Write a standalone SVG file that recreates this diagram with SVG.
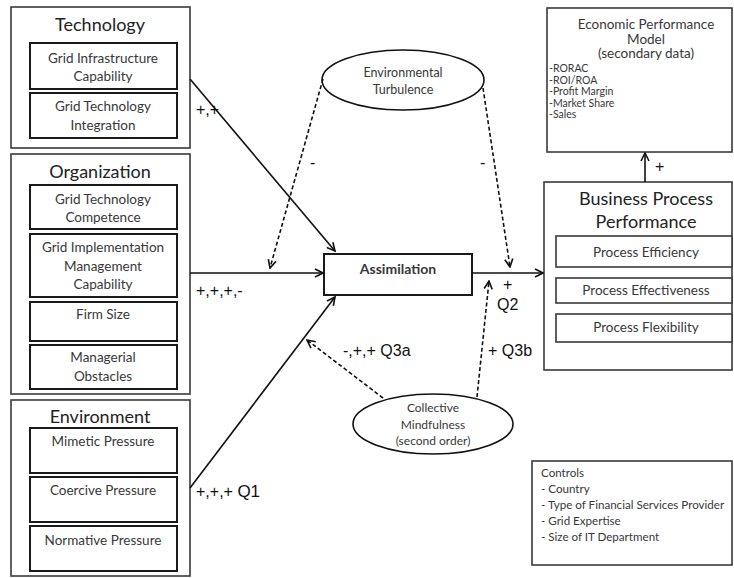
<svg xmlns="http://www.w3.org/2000/svg" width="734" height="578" viewBox="0 0 734 578">
<defs>
<style>
.outer{fill:#fff;stroke:#3a3a3a;stroke-width:1.6}
.inner{fill:#fff;stroke:#1a1a1a;stroke-width:2}
.t{font-family:Lato,"Open Sans","Liberation Sans",sans-serif;fill:#383838;text-anchor:middle}
.title{font-size:18px;fill:#222}
.sub{font-size:13.5px}
.small{font-size:10.5px;text-anchor:start}
.ctl{font-size:11.6px;text-anchor:start}
.lbl{font-family:"Liberation Sans",Arial,sans-serif;font-size:16px;fill:#111}
.line{fill:none;stroke:#111;stroke-width:1.6}
.dash{fill:none;stroke:#111;stroke-width:1.6;stroke-dasharray:4,2.5}
.ell{fill:#fff;stroke:#111;stroke-width:1.6}
</style>
<marker id="ah" viewBox="0 0 10 10" refX="9" refY="5" markerWidth="10" markerHeight="10" markerUnits="userSpaceOnUse" orient="auto">
<path d="M1,1 L9,5 L1,9" fill="none" stroke="#111" stroke-width="1.6"/>
</marker>
</defs>
<rect width="734" height="578" fill="#fff"/>

<g id="technology">
<rect class="outer" x="11" y="7" width="179" height="141"/>
<text class="t title" x="100" y="31">Technology</text>
<rect class="inner" x="30" y="43" width="147" height="46"/>
<text class="t sub" x="103" y="63">Grid Infrastructure</text>
<text class="t sub" x="103" y="81">Capability</text>
<rect class="inner" x="30" y="93" width="147" height="45"/>
<text class="t sub" x="103" y="111">Grid Technology</text>
<text class="t sub" x="103" y="130">Integration</text>
</g>

<g id="organization">
<rect class="outer" x="11" y="154" width="179" height="240"/>
<text class="t title" x="100" y="178">Organization</text>
<rect class="inner" x="30" y="185" width="147" height="44"/>
<text class="t sub" x="103" y="204">Grid Technology</text>
<text class="t sub" x="103" y="222">Competence</text>
<rect class="inner" x="30" y="234" width="147" height="63"/>
<text class="t sub" x="103" y="252">Grid Implementation</text>
<text class="t sub" x="103" y="271">Management</text>
<text class="t sub" x="103" y="289">Capability</text>
<rect class="inner" x="30" y="302" width="147" height="39"/>
<text class="t sub" x="103" y="319">Firm Size</text>
<rect class="inner" x="30" y="345" width="147" height="44"/>
<text class="t sub" x="103" y="362">Managerial</text>
<text class="t sub" x="103" y="381">Obstacles</text>
</g>

<g id="environment">
<rect class="outer" x="11" y="400" width="179" height="176"/>
<text class="t title" x="100" y="423">Environment</text>
<rect class="inner" x="30" y="428" width="147" height="45"/>
<text class="t sub" x="103" y="446">Mimetic Pressure</text>
<rect class="inner" x="30" y="477" width="147" height="45"/>
<text class="t sub" x="103" y="495">Coercive Pressure</text>
<rect class="inner" x="30" y="526" width="147" height="45"/>
<text class="t sub" x="103" y="545">Normative Pressure</text>
</g>

<g id="assimilation">
<rect class="inner" x="324" y="254" width="148" height="41"/>
<text class="t" x="398" y="274" font-size="14" font-weight="bold" fill="#505050">Assimilation</text>
</g>

<g id="env-turbulence">
<ellipse class="ell" cx="403" cy="80" rx="81" ry="30"/>
<text class="t" x="403" y="77" font-size="12.5">Environmental</text>
<text class="t" x="403" y="94" font-size="12.5">Turbulence</text>
</g>

<g id="collective-mindfulness">
<ellipse class="ell" cx="433" cy="424" rx="80" ry="30"/>
<text class="t" x="433" y="412" font-size="12">Collective</text>
<text class="t" x="433" y="429" font-size="12">Mindfulness</text>
<text class="t" x="433" y="445" font-size="12">(second order)</text>
</g>

<g id="economic-performance">
<rect class="outer" x="547" y="8" width="185" height="144"/>
<text class="t" x="646" y="29" font-size="13.5">Economic Performance</text>
<text class="t" x="646" y="43.5" font-size="13.5">Model</text>
<text class="t" x="646" y="58" font-size="13.5">(secondary data)</text>
<text class="t small" x="549" y="72">-RORAC</text>
<text class="t small" x="549" y="83.5">-ROI/ROA</text>
<text class="t small" x="549" y="95">-Profit Margin</text>
<text class="t small" x="549" y="106.5">-Market Share</text>
<text class="t small" x="549" y="118">-Sales</text>
</g>

<g id="business-process">
<rect class="outer" x="544" y="182" width="188" height="188"/>
<text class="t title" x="646" y="205">Business Process</text>
<text class="t title" x="646" y="228">Performance</text>
<rect class="outer" x="556" y="236" width="176" height="31"/>
<text class="t sub" x="646" y="257">Process Efficiency</text>
<rect class="outer" x="556" y="278" width="176" height="25"/>
<text class="t sub" x="646" y="295">Process Effectiveness</text>
<rect class="outer" x="556" y="314" width="176" height="28"/>
<text class="t sub" x="646" y="332">Process Flexibility</text>
</g>

<g id="controls">
<rect class="outer" x="532" y="461" width="200" height="104"/>
<text class="t ctl" x="541" y="477">Controls</text>
<text class="t ctl" x="541" y="493">- Country</text>
<text class="t ctl" x="541" y="509">- Type of Financial Services Provider</text>
<text class="t ctl" x="541" y="525">- Grid Expertise</text>
<text class="t ctl" x="541" y="541">- Size of IT Department</text>
</g>

<g id="connectors">
<line class="line" x1="190" y1="79" x2="335" y2="251" marker-end="url(#ah)"/>
<line class="line" x1="190" y1="273" x2="323" y2="273" marker-end="url(#ah)"/>
<line class="line" x1="190" y1="488" x2="335" y2="297" marker-end="url(#ah)"/>
<line class="line" x1="472" y1="273" x2="543" y2="273" marker-end="url(#ah)"/>
<line class="line" x1="645" y1="182" x2="645" y2="153" marker-end="url(#ah)"/>
<line class="dash" x1="323" y1="79" x2="270" y2="268" marker-end="url(#ah)"/>
<line class="dash" x1="483" y1="88" x2="510" y2="267" marker-end="url(#ah)"/>
<line class="dash" x1="383" y1="398" x2="307" y2="340" marker-end="url(#ah)"/>
<line class="dash" x1="477" y1="397" x2="489" y2="281" marker-end="url(#ah)"/>
<text class="lbl" x="196" y="115">+,+</text>
<text class="lbl" x="196" y="296">+,+,+,-</text>
<text class="lbl" x="196" y="497">+,+,+  <tspan font-size="17">Q1</tspan></text>
<text class="lbl" x="310" y="168" font-size="13">-</text>
<text class="lbl" x="480" y="168" font-size="13">-</text>
<text class="lbl" x="503" y="290" font-size="15">+</text>
<text class="lbl" x="497" y="310" font-size="17">Q2</text>
<text class="lbl" x="343" y="356" font-size="18">-,+,+ Q3a</text>
<text class="lbl" x="488" y="356" font-size="18">+ Q3b</text>
<text class="lbl" x="655" y="172" font-size="13">+</text>
</g>
</svg>
